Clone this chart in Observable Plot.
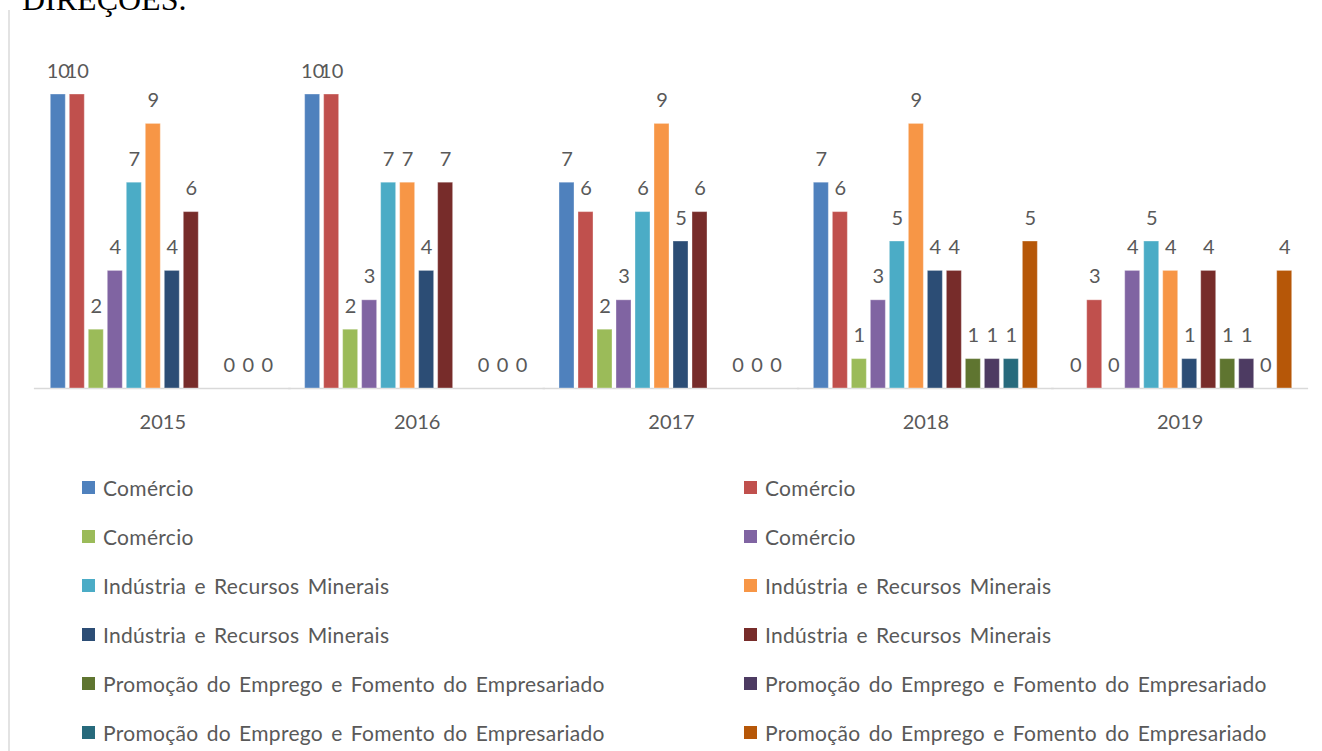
<!DOCTYPE html>
<html>
<head>
<meta charset="utf-8">
<script src="https://cdn.jsdelivr.net/npm/d3@7"></script>
<script src="https://cdn.jsdelivr.net/npm/@observablehq/plot@0.6"></script>
<style>
  html, body { margin: 0; padding: 0; background: #fff; }
  #wrap { position: relative; width: 1322px; height: 751px; overflow: hidden; background: #fff; }
  #title { position: absolute; left: 22px; top: -16px; font-family: "Liberation Serif", serif; font-size: 32px; line-height: 30px; color: #000; white-space: nowrap; }
  #border { position: absolute; left: 8px; top: 10px; width: 2px; height: 760px; background: #e3e3e3; }
  #chart { position: absolute; left: 0; top: 0; }
  #legend { position: absolute; left: 0; top: 463px; width: 1322px; display: grid; grid-template-columns: 662px 660px; grid-auto-rows: 49px; font-family: Lato, sans-serif; font-size: 21px; letter-spacing: 0.3px; word-spacing: 2.5px; color: #595959; }
  .item { display: flex; align-items: center; white-space: nowrap; }
  .item.left { padding-left: 82px; }
  .item.right { padding-left: 82px; }
  .sw { width: 13px; height: 13px; margin-right: 8px; flex: none; }
</style>
</head>
<body>
<div id="wrap">
  <div id="title">DIREÇÕES.</div>
  <div id="border"></div>
  <div id="chart"></div>
  <div id="legend"></div>
</div>
<script>
// ---- data ----
const years = ["2015", "2016", "2017", "2018", "2019"];
const seriesNames = [
  "Comércio", "Comércio", "Comércio", "Comércio",
  "Indústria e Recursos Minerais", "Indústria e Recursos Minerais", "Indústria e Recursos Minerais", "Indústria e Recursos Minerais",
  "Promoção do Emprego e Fomento do Empresariado", "Promoção do Emprego e Fomento do Empresariado", "Promoção do Emprego e Fomento do Empresariado", "Promoção do Emprego e Fomento do Empresariado"
];
const seriesColors = [
  "#4F81BD", "#C0504D", "#9BBB59", "#8064A2",
  "#4BACC6", "#F79646", "#2C4D75", "#772C2A",
  "#5F7530", "#4D3B62", "#276A7C", "#B65708"
];
const values2015 = [10, 10, 2, 4, 7, 9, 4, 6, null, 0, 0, 0];
const values2016 = [10, 10, 2, 3, 7, 7, 4, 7, null, 0, 0, 0];
const values2017 = [7, 6, 2, 3, 6, 9, 5, 6, null, 0, 0, 0];
const values2018 = [7, 6, 1, 3, 5, 9, 4, 4, 1, 1, 1, 5];
const values2019 = [0, 3, 0, 4, 5, 4, 1, 4, 1, 1, 0, 4];
const valuesByYear = [values2015, values2016, values2017, values2018, values2019];

// ---- table ----
const rows = [];
years.forEach((y, yi) => {
  valuesByYear[yi].forEach((v, si) => {
    if (v !== null) rows.push({year: y, s: si, value: v});
  });
});
const seriesIdx = d3.range(seriesNames.length);

const FONT = "Lato, sans-serif";
const chart = Plot.plot({
  width: 1322,
  height: 463,
  marginTop: 94,
  marginBottom: 75,
  marginLeft: 34,
  marginRight: 14,
  style: {fontFamily: FONT, fontSize: "20px", color: "#595959", background: "transparent"},
  fx: {domain: years, round: false, paddingInner: 0.1036, paddingOuter: 0.0562, axis: "bottom", tickSize: 0, tickPadding: 26, label: null},
  x: {domain: seriesIdx, round: false, paddingInner: 0.21, paddingOuter: 0.105, axis: null},
  y: {domain: [0, 10], axis: null},
  color: {domain: seriesIdx, range: seriesColors},
  marks: [
    Plot.ruleY([0], {stroke: "#d9d9d9", strokeWidth: 1.5, insetLeft: -14.4, insetRight: -14.4}),
    Plot.barY(rows, {fx: "year", x: "s", y: "value", fill: "s", stroke: "#ffffff", strokeOpacity: 0.35, strokeWidth: 1}),
    Plot.text(rows, {fx: "year", x: "s", y: "value", text: d => String(d.value), lineAnchor: "bottom", dy: -17, fill: "#595959", fontSize: 20, fontFamily: FONT})
  ]
});
document.getElementById("chart").appendChild(chart);

// ---- legend (two columns, row-major) ----
const legend = document.getElementById("legend");
seriesNames.forEach((name, i) => {
  const item = document.createElement("div");
  item.className = "item " + (i % 2 === 0 ? "left" : "right");
  const sw = document.createElement("span");
  sw.className = "sw";
  sw.style.background = chart.scale("color").apply(i);
  const tx = document.createElement("span");
  tx.textContent = name;
  item.appendChild(sw);
  item.appendChild(tx);
  legend.appendChild(item);
});
</script>
</body>
</html>
